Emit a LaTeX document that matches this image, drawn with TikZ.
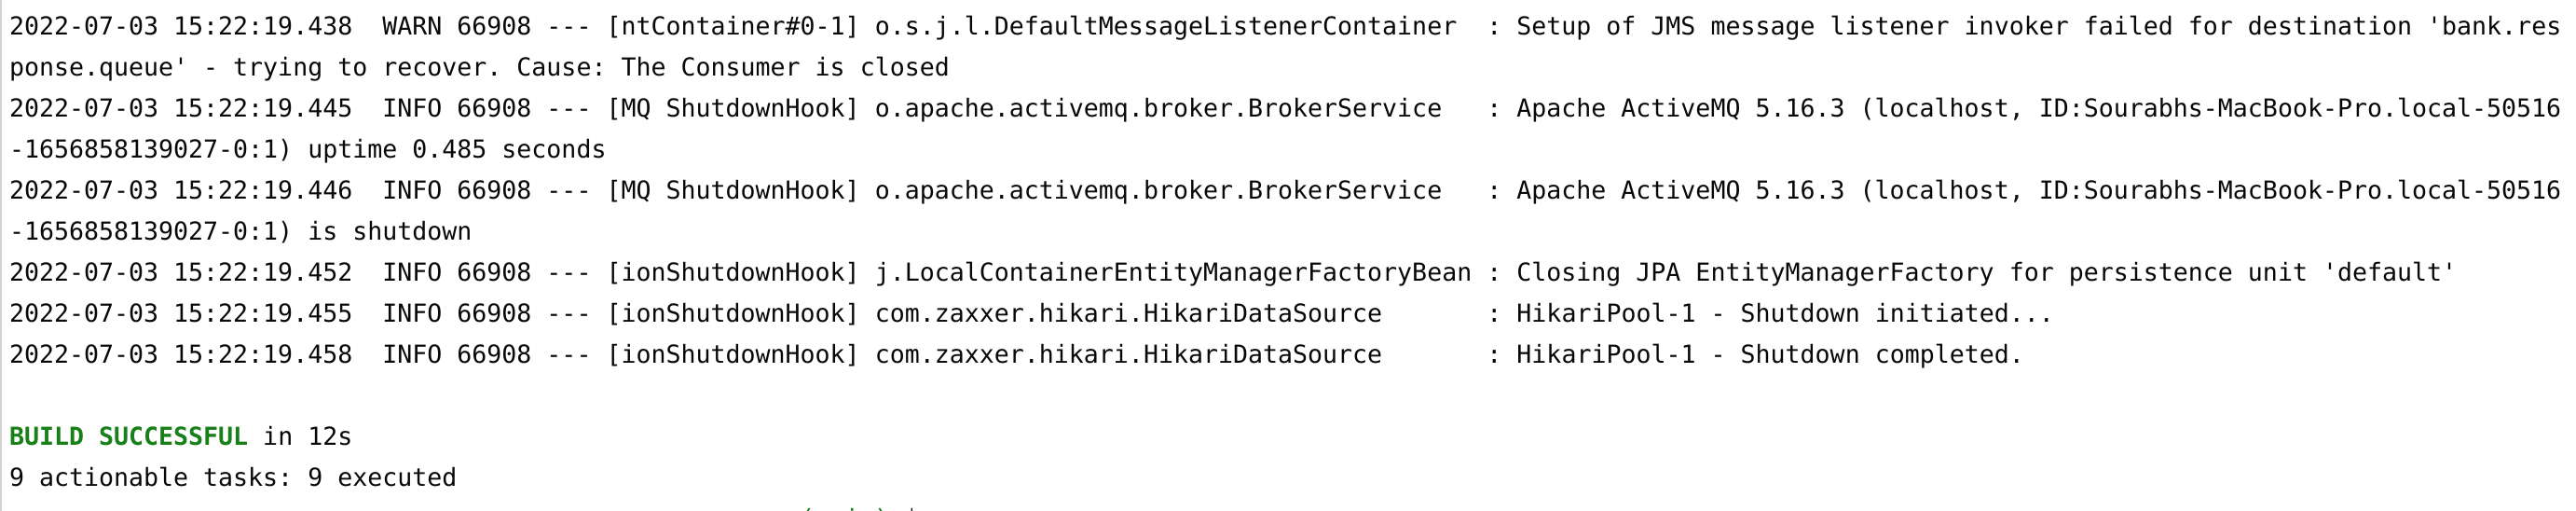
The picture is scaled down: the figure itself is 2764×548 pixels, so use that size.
\documentclass[tikz,border=0pt]{standalone}
\usepackage{fontspec}
\setmonofont{DejaVu Sans Mono}
\definecolor{logtext}{RGB}{8,8,8}
\definecolor{buildgreen}{RGB}{24,128,24}
\definecolor{edgegray}{RGB}{210,210,210}
\tikzset{
  logline/.style={anchor=base west, inner sep=0pt, outer sep=0pt, text=logtext,
    font=\ttfamily\fontsize{26.6pt}{44pt}\selectfont\frenchspacing},
  gutter/.style={draw=none, fill=edgegray}
}
\begin{document}
\begin{tikzpicture}[x=1pt,y=-1pt]
\useasboundingbox (0,0) rectangle (2764,548);
\fill[white] (0,0) rectangle (2764,548);
\begin{scope}
\clip (0,0) rectangle (2764,548);
\fill[gutter] (0,0) rectangle (2.2,548);
\node[logline] (l1) at (10,37.5) {2022-07-03 15:22:19.438~~WARN 66908 --- [ntContainer\#0-1] o.s.j.l.DefaultMessageListenerContainer~~: Setup of JMS message listener invoker failed for destination 'bank.res};
\node[logline] (l2) at (10,81.5) {ponse.queue' - trying to recover. Cause: The Consumer is closed};
\node[logline] (l3) at (10,125.5) {2022-07-03 15:22:19.445~~INFO 66908 --- [MQ ShutdownHook] o.apache.activemq.broker.BrokerService~~~: Apache ActiveMQ 5.16.3 (localhost, ID:Sourabhs-MacBook-Pro.local-50516};
\node[logline] (l4) at (10,169.5) {-1656858139027-0:1) uptime 0.485 seconds};
\node[logline] (l5) at (10,213.5) {2022-07-03 15:22:19.446~~INFO 66908 --- [MQ ShutdownHook] o.apache.activemq.broker.BrokerService~~~: Apache ActiveMQ 5.16.3 (localhost, ID:Sourabhs-MacBook-Pro.local-50516};
\node[logline] (l6) at (10,257.5) {-1656858139027-0:1) is shutdown};
\node[logline] (l7) at (10,301.5) {2022-07-03 15:22:19.452~~INFO 66908 --- [ionShutdownHook] j.LocalContainerEntityManagerFactoryBean : Closing JPA EntityManagerFactory for persistence unit 'default'};
\node[logline] (l8) at (10,345.5) {2022-07-03 15:22:19.455~~INFO 66908 --- [ionShutdownHook] com.zaxxer.hikari.HikariDataSource~~~~~~~: HikariPool-1 - Shutdown initiated...};
\node[logline] (l9) at (10,389.5) {2022-07-03 15:22:19.458~~INFO 66908 --- [ionShutdownHook] com.zaxxer.hikari.HikariDataSource~~~~~~~: HikariPool-1 - Shutdown completed.};
\node[logline] (l11) at (10,477.5) {\textcolor{buildgreen}{\bfseries BUILD SUCCESSFUL} in 12s};
\node[logline] (l12) at (10,521.5) {9 actionable tasks: 9 executed};
\node[logline] (l13) at (858,565.5) {\textcolor{buildgreen}{(main)} \$};
\end{scope}
\end{tikzpicture}
\end{document}
